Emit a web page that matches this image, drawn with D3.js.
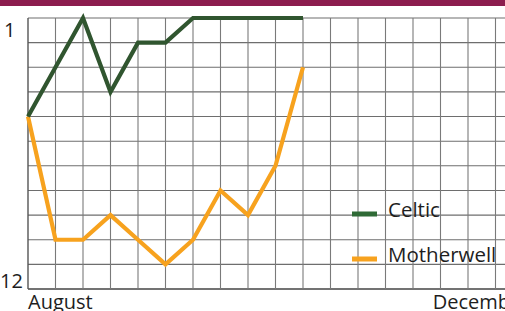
<!DOCTYPE html>
<html>
<head>
<meta charset="utf-8">
<script src="https://cdn.jsdelivr.net/npm/d3@7"></script>
<style>
  html, body { margin: 0; padding: 0; background: #fff; }
  svg { display: block; font-family: "Open Sans", sans-serif; }
</style>
</head>
<body>
<svg></svg>
<script>
// league position after each match (1 = top)
const matches = [0, 1, 2, 3, 4, 5, 6, 7, 8, 9, 10];
const celtic = [5, 3, 1, 4, 2, 2, 1, 1, 1, 1, 1];
const motherwell = [5, 10, 10, 9, 10, 11, 10, 8, 9, 7, 3];
const yTickLabels = [1, 12];
const monthLabels = ['August', 'December'];
const monthAt = [0, 14.72];
const teams = ['Celtic', 'Motherwell'];

const width = 505;
const height = 311;
const colors = { Celtic: '#30552f', Motherwell: '#f7a21e' };

let svg = d3.select('svg')
    .attr('width', width)
    .attr('height', height)

let xScale = d3.scaleLinear()
    .domain([0, 17])
    .range([28, 495.5])

let yScale = d3.scaleLinear()
    .domain([1, 12])
    .range([18, 289])

// top band
svg.append('rect')
    .attr('x', 0).attr('y', 0)
    .attr('width', width).attr('height', 6)
    .attr('fill', '#8c1d4e')

// grid
let grid = svg.append('g')
grid.selectAll('line.h')
    .data(d3.range(1, 13))
    .enter()
    .append('line')
    .attr('x1', xScale(0))
    .attr('x2', width)
    .attr('y1', d => yScale(d))
    .attr('y2', d => yScale(d))
    .attr('stroke', d => d === 12 ? '#444' : '#6e6e6e')
    .attr('stroke-width', d => d === 12 ? 1.6 : 1.1)

grid.selectAll('line.v')
    .data(d3.range(0, 19))
    .enter()
    .append('line')
    .attr('x1', d => xScale(d))
    .attr('x2', d => xScale(d))
    .attr('y1', yScale(1))
    .attr('y2', yScale(12))
    .attr('stroke', d => d === 0 ? '#555' : '#7a7a7a')
    .attr('stroke-width', d => d === 0 ? 1.4 : 1.1)

// y labels
svg.selectAll('text.ylab')
    .data(yTickLabels)
    .enter()
    .append('text')
    .attr('x', d => d === 1 ? 4 : 0)
    .attr('y', d => d === 1 ? yScale(d) + 19 : yScale(d) - 1)
    .attr('font-size', 20)
    .attr('fill', '#1e1e1e')
    .text(d => d)

// x labels
svg.selectAll('text.xlab')
    .data(monthLabels)
    .enter()
    .append('text')
    .attr('x', (d, i) => xScale(monthAt[i]))
    .attr('y', 309)
    .attr('font-size', 20)
    .attr('fill', '#1e1e1e')
    .text(d => d)

// lines
let line = d3.line()
    .x((d, i) => xScale(matches[i]))
    .y(d => yScale(d))

svg.append('path')
    .datum(motherwell)
    .attr('d', line)
    .attr('fill', 'none')
    .attr('stroke', colors.Motherwell)
    .attr('stroke-width', 4.2)
    .attr('stroke-linejoin', 'miter')

svg.append('path')
    .datum(celtic)
    .attr('d', line)
    .attr('fill', 'none')
    .attr('stroke', colors.Celtic)
    .attr('stroke-width', 4.2)
    .attr('stroke-linejoin', 'miter')

// legend
let legend = svg.selectAll('g.legend')
    .data(teams)
    .enter()
    .append('g')
    .attr('transform', (d, i) => 'translate(352,' + (214 + i * 45) + ')')

legend.append('rect')
    .attr('x', 0).attr('y', -2.5)
    .attr('width', 25).attr('height', 5)
    .attr('fill', d => d === 'Celtic' ? '#2f6a36' : colors.Motherwell)

legend.append('text')
    .attr('x', 36)
    .attr('y', 3)
    .attr('font-size', 20.5)
    .attr('fill', '#1e1e1e')
    .text(d => d)
</script>
</body>
</html>
